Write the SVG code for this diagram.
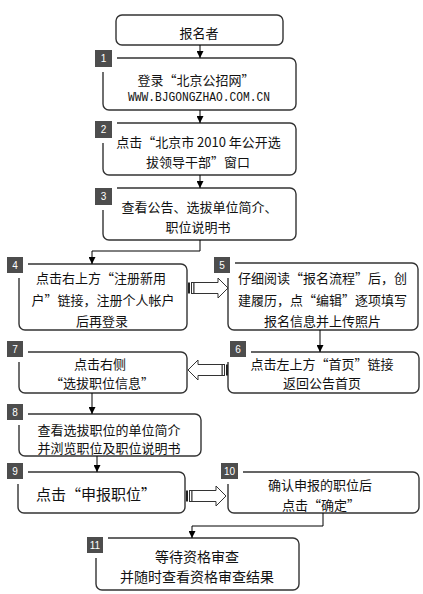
<svg xmlns="http://www.w3.org/2000/svg" width="423" height="594" viewBox="0 0 423 594">
<defs>
<style>
.box{fill:#fff;stroke:#333;stroke-width:1.4}
.t{font-family:"Noto Sans CJK SC","Noto Sans CJK JP",sans-serif;font-size:13px;fill:#111;text-anchor:middle}
.m{font-family:"Liberation Mono",monospace;font-size:12px;fill:#111;text-anchor:middle}
.num rect{fill:#4d4d4d;stroke:#fff;stroke-width:10;paint-order:stroke}
.num text{font-family:"Liberation Sans",Arial,sans-serif;font-size:10px;fill:#fff;text-anchor:middle}
.c{fill:none;stroke:#000;stroke-width:1}
</style>
<marker id="ah" viewBox="0 0 10 10" refX="10" refY="5" markerWidth="7" markerHeight="7" markerUnits="userSpaceOnUse" orient="auto"><path d="M0,0 L10,5 L0,10 Z" fill="#000"/></marker>
<g id="ha">
<rect x="0" y="-5.5" width="2" height="11" fill="#222"/>
<rect x="3.5" y="-5.5" width="2.5" height="11" fill="#fff" stroke="#333" stroke-width="1"/>
<path d="M6,-5.5 H30 V-10 L40,0 L30,10 V5.5 H6 Z" fill="#fff" stroke="#333" stroke-width="1"/>
</g>
</defs>
<rect width="423" height="594" fill="#fff"/>

<g id="n0">
<rect class="box" x="116" y="15" width="167" height="30" rx="6"/>
<text class="t" x="199" y="38">报名者</text>
</g>

<g id="n1">
<rect class="box" x="103" y="58" width="193" height="52" rx="6"/>
<g class="num"><rect x="95" y="50" width="17" height="17"/><text x="103.5" y="62">1</text></g>
<text class="t" x="196" y="85">登录“北京公招网”</text>
<text class="m" x="199" y="101" textLength="142" lengthAdjust="spacingAndGlyphs">WWW.BJGONGZHAO.COM.CN</text>
</g>

<g id="n2">
<rect class="box" x="103" y="123" width="193" height="52" rx="6"/>
<g class="num"><rect x="95" y="121" width="17" height="17"/><text x="103.5" y="133">2</text></g>
<text class="t" x="198.5" y="147">点击“北京市 2010 年公开选</text>
<text class="t" x="198" y="167">拔领导干部”窗口</text>
</g>

<g id="n3">
<rect class="box" x="103" y="188" width="193" height="52" rx="6"/>
<g class="num"><rect x="95" y="188" width="17" height="17"/><text x="103.5" y="200">3</text></g>
<text class="t" x="199.5" y="212">查看公告、选拔单位简介、</text>
<text class="t" x="198" y="232">职位说明书</text>
</g>

<g id="n4">
<rect class="box" x="19" y="264" width="168" height="66" rx="6"/>
<g class="num"><rect x="7" y="257" width="16" height="16"/><text x="15" y="269">4</text></g>
<text class="t" x="101" y="283">点击右上方“注册新用</text>
<text class="t" x="103" y="305">户”链接，注册个人帐户</text>
<text class="t" x="102" y="326">后再登录</text>
</g>

<g id="n5">
<rect class="box" x="228" y="263" width="190" height="67" rx="6"/>
<g class="num"><rect x="214" y="257" width="16" height="16"/><text x="222" y="269">5</text></g>
<text class="t" x="322.5" y="283">仔细阅读“报名流程”后，创</text>
<text class="t" x="322.5" y="305">建履历，点“编辑”逐项填写</text>
<text class="t" x="322.5" y="326">报名信息并上传照片</text>
</g>

<g id="n6">
<rect class="box" x="228" y="352" width="191" height="41" rx="6"/>
<g class="num"><rect x="230" y="341" width="16" height="16"/><text x="238" y="353">6</text></g>
<text class="t" x="322" y="369">点击左上方“首页”链接</text>
<text class="t" x="322" y="388">返回公告首页</text>
</g>

<g id="n7">
<rect class="box" x="19" y="352" width="168" height="41" rx="6"/>
<g class="num"><rect x="7" y="341" width="16" height="16"/><text x="15" y="353">7</text></g>
<text class="t" x="100" y="369">点击右侧</text>
<text class="t" x="102" y="388">“选拔职位信息”</text>
</g>

<g id="n8">
<rect class="box" x="19" y="414" width="182" height="42" rx="6"/>
<g class="num"><rect x="7" y="404" width="16" height="16"/><text x="15" y="416">8</text></g>
<text class="t" x="109" y="435">查看选拔职位的单位简介</text>
<text class="t" x="109" y="453">并浏览职位及职位说明书</text>
</g>

<g id="n9">
<rect class="box" x="18" y="472" width="167" height="41" rx="6"/>
<g class="num"><rect x="7" y="463" width="16" height="16"/><text x="15" y="475">9</text></g>
<text class="t" x="96" y="500" style="font-size:15px">点击“申报职位”</text>
</g>

<g id="n10">
<rect class="box" x="228" y="472" width="191" height="41" rx="6"/>
<g class="num"><rect x="221" y="463" width="17" height="16"/><text x="229.5" y="475">10</text></g>
<text class="t" x="320" y="490">确认申报的职位后</text>
<text class="t" x="321" y="510">点击“确定”</text>
</g>

<g id="n11">
<rect class="box" x="96" y="538" width="203" height="52" rx="6"/>
<g class="num"><rect x="87" y="537" width="16" height="16"/><text x="95" y="549">11</text></g>
<text class="t" x="197" y="562" style="font-size:14px">等待资格审查</text>
<text class="t" x="197" y="582" style="font-size:14px">并随时查看资格审查结果</text>
</g>

<g id="connectors">
<path class="c" d="M200,45 V58" marker-end="url(#ah)"/>
<path class="c" d="M200,110 V123" marker-end="url(#ah)"/>
<path class="c" d="M200,175 V188" marker-end="url(#ah)"/>
<path class="c" d="M200,240 V251 H92 V264" marker-end="url(#ah)"/>
<path class="c" d="M320,330 V352" marker-end="url(#ah)"/>
<path class="c" d="M92,393 V414" marker-end="url(#ah)"/>
<path class="c" d="M97,456 V472" marker-end="url(#ah)"/>
<path class="c" d="M323,513 V526 H192 V538" marker-end="url(#ah)"/>
<use href="#ha" transform="translate(188,288)"/>
<use href="#ha" transform="translate(228,370) scale(-1,1)"/>
<use href="#ha" transform="translate(186,496)"/>
</g>
</svg>
